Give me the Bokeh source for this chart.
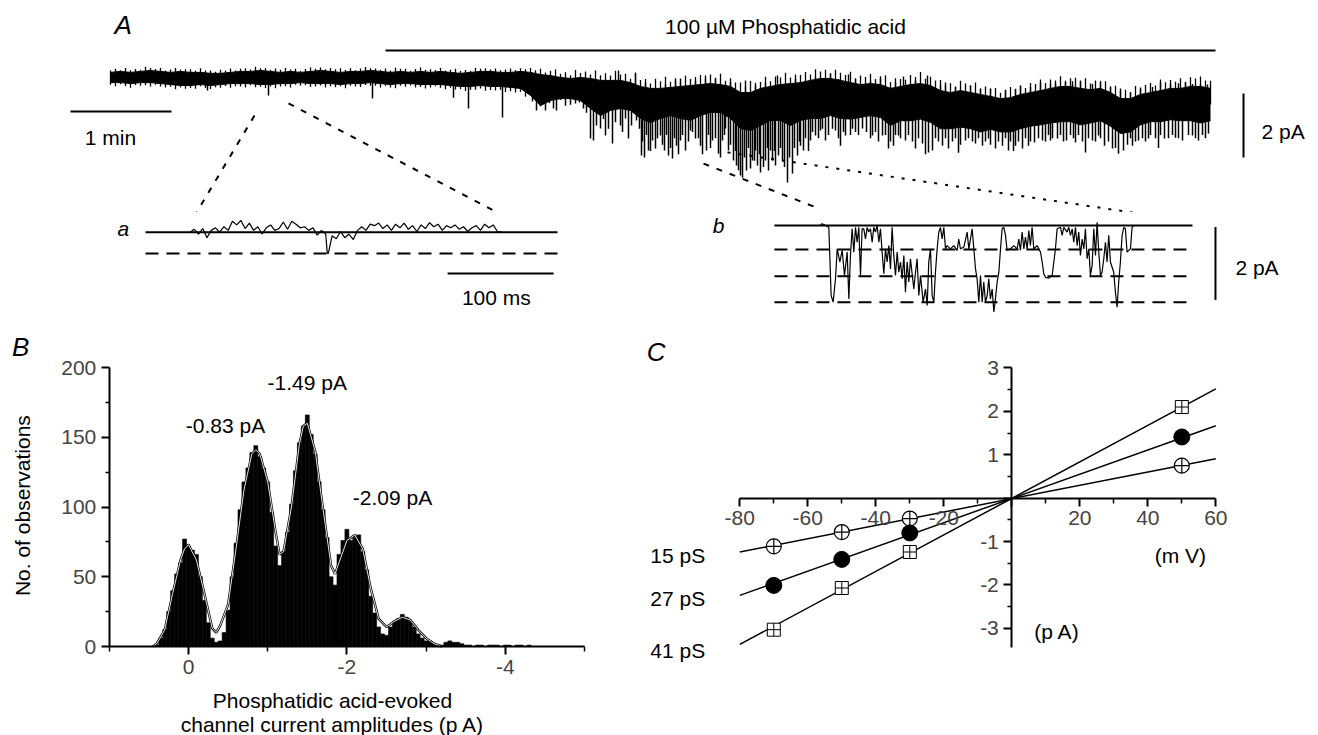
import numpy as np
from bokeh.plotting import figure
from bokeh.models import Range1d, LinearAxis, FixedTicker, CustomJSTickFormatter
from bokeh.layouts import column, row
from bokeh.embed import file_html
from bokeh.resources import INLINE
from bokeh.core.properties import value

FONT = "Liberation Sans"
FS = "21px"

# ---------------- Panel A: long recording (time in min, current in pA) ----------------
trace_step_min = 0.1
trace_upper = [0.16, 0.19, 0.16, 0.19, 0.22, 0.19, 0.16, 0.19, 0.16, 0.16, 0.13, 0.13, 0.16, 0.19, 0.19,
               0.22, 0.19, 0.16, 0.19, 0.16, 0.19, 0.22, 0.19, 0.16, 0.19, 0.19, 0.22, 0.19, 0.16, 0.19,
               0.16, 0.19, 0.16, 0.19, 0.16, 0.13, 0.16, 0.19, 0.19, 0.16, 0.16, 0.19,
               0.16, 0.09, 0.06, 0.00, -0.03, 0.00, -0.03, -0.09, -0.09, -0.09, -0.16, -0.28, -0.34, -0.34,
               -0.31, -0.28, -0.25, -0.22, -0.19, -0.22, -0.28, -0.47, -0.47, -0.34, -0.28, -0.22, -0.19,
               -0.16, -0.09, -0.03, -0.03, -0.09, -0.16, -0.22, -0.19, -0.22, -0.34, -0.28, -0.22, -0.19,
               -0.25, -0.41, -0.47, -0.41, -0.47, -0.53, -0.59, -0.66, -0.63, -0.53, -0.47, -0.41, -0.34,
               -0.28, -0.28, -0.34, -0.38, -0.34, -0.47, -0.66, -0.66, -0.53, -0.47, -0.41, -0.34, -0.34,
               -0.28, -0.28, -0.34]
trace_lower = [-0.16, -0.16, -0.19, -0.16, -0.16, -0.19, -0.22, -0.25, -0.25, -0.22, -0.25, -0.22, -0.19,
               -0.19, -0.19, -0.22, -0.22, -0.19, -0.19, -0.16, -0.19, -0.19, -0.19, -0.22, -0.19, -0.19,
               -0.16, -0.19, -0.22, -0.19, -0.19, -0.22, -0.22, -0.22, -0.25, -0.28, -0.28, -0.25, -0.28,
               -0.28, -0.31, -0.34,
               -0.56, -0.88, -0.72, -0.66, -0.66, -0.72, -0.97, -1.19, -1.03, -0.97, -1.03,
               -1.28, -1.41, -1.28, -1.19, -1.28, -1.34, -1.19, -1.09, -1.09, -1.28, -1.59, -1.66, -1.50,
               -1.34, -1.34, -1.50, -1.34, -1.28,
               -1.28, -1.19, -1.28,
               -1.30, -1.25, -1.19, -1.25, -1.50, -1.35, -1.35, -1.30, -1.40, -1.60, -1.60, -1.55, -1.60,
               -1.70, -1.62, -1.70, -1.70, -1.60, -1.52, -1.48, -1.42, -1.38, -1.38, -1.48, -1.42, -1.35,
               -1.52, -1.75, -1.70, -1.48, -1.38, -1.38, -1.32, -1.35, -1.35, -1.42, -1.35]
# channel openings (downward deflections): time (min) and tip current (pA)
spike_down_t = [0.97, 1.58, 2.62, 3.43, 3.58, 3.92,
                4.22, 4.26, 4.30, 4.35, 4.39, 4.43, 4.46, 4.50, 4.55, 4.60, 4.65, 4.69, 4.73, 4.76, 4.80,
                4.83, 4.86, 4.90, 4.93, 4.95, 4.98, 5.02, 5.05, 5.10, 5.12, 5.15, 5.18, 5.21, 5.26, 5.29,
                5.31, 5.32, 5.34, 5.36, 5.38, 5.40, 5.42, 5.45, 5.47, 5.50, 5.52, 5.54, 5.56, 5.58, 5.60,
                5.62, 5.64, 5.66, 5.68, 5.70, 5.72, 5.75, 5.78, 5.80, 5.82, 5.85, 5.88, 5.90, 5.92, 5.96,
                5.98, 6.00, 6.02, 6.05, 6.08, 6.10, 6.12, 6.14, 6.15, 6.18, 6.20, 6.23, 6.25, 6.26, 6.28,
                6.30, 6.32, 6.34, 6.36, 6.38, 6.40, 6.42, 6.44, 6.45, 6.47, 6.49, 6.50, 6.53, 6.55, 6.57,
                6.58, 6.60, 6.62, 6.64, 6.65, 6.68, 6.70, 6.72, 6.74, 6.77, 6.79, 6.82, 6.84, 6.87, 6.89,
                6.90, 6.93, 6.95, 6.98, 7.00, 7.02, 7.05, 7.08, 7.10, 7.12, 7.15, 7.18, 7.22, 7.25, 7.28,
                7.30, 7.33, 7.35, 7.40, 7.42, 7.45, 7.48, 7.52, 7.56, 7.60, 7.62, 7.65, 7.68, 7.72, 7.75,
                7.78, 7.80, 7.83, 7.85, 7.88, 7.90, 7.95, 7.98, 8.02, 8.05, 8.08, 8.12, 8.15, 8.18, 8.22,
                8.25, 8.28, 8.32, 8.35, 8.38, 8.42, 8.45, 8.48, 8.50, 8.55, 8.58, 8.62, 8.65, 8.68, 8.72,
                8.75, 8.78, 8.80, 8.85, 8.88, 8.92, 8.95, 8.98, 9.00, 9.03, 9.05, 9.08, 9.12, 9.15, 9.18,
                9.20, 9.24, 9.28, 9.32, 9.35, 9.38, 9.40, 9.42, 9.47, 9.50, 9.53, 9.56, 9.60, 9.63, 9.65,
                9.68, 9.72, 9.75, 9.78, 9.82, 9.85, 9.88, 9.90, 9.94, 9.98, 10.02, 10.05, 10.08, 10.13,
                10.17, 10.20, 10.22, 10.25, 10.28, 10.32, 10.35, 10.38, 10.40, 10.45, 10.48, 10.50, 10.54,
                10.58, 10.62, 10.65, 10.68, 10.72, 10.78, 10.82, 10.85, 10.88, 10.92, 10.95, 10.98, 11.00]
spike_down_i = [-0.41, -0.56, -0.66, -0.63, -0.97, -1.25,
                -0.75, -1.03, -0.90, -1.03, -0.80, -0.97, -1.03, -0.70, -0.88, -0.85, -0.81, -0.78, -0.97,
                -1.10, -1.91, -1.97, -1.50, -1.59, -1.30, -1.81, -1.60, -2.06, -1.40, -1.50, -1.70, -1.28,
                -1.91, -1.50, -1.34, -1.60,
                -2.44, -2.00, -2.50, -1.80, -2.28, -2.30, -1.97, -2.22, -1.90, -1.81, -2.10, -2.28, -1.80,
                -2.44, -2.20, -2.53, -1.90, -2.13, -2.40, -1.97, -1.80, -2.28, -2.00, -1.66, -1.70, -1.91,
                -1.90, -2.13, -2.40, -2.28, -1.80, -2.20, -1.97, -1.90, -2.38, -2.50, -1.97, -1.80, -1.59,
                -2.28, -2.10, -2.59, -2.30, -2.75, -2.90, -3.06, -3.13, -2.50, -2.91, -2.20, -2.84, -2.59,
                -2.60, -2.28, -2.75, -2.40, -2.97, -2.80, -2.59, -2.20, -2.91, -2.28, -2.60, -2.30, -2.75,
                -2.44, -2.20, -2.59, -2.80, -3.28, -2.50, -3.00, -2.20, -2.44, -2.00, -2.13, -2.28, -1.90,
                -2.30, -1.97, -1.70, -1.81, -1.90, -1.66, -1.60, -1.97, -1.80, -1.60, -1.66, -1.90, -2.13,
                -1.70, -1.81, -1.80, -1.60, -1.70, -1.80, -1.59, -1.70, -1.90, -1.81, -1.70, -2.00, -1.81,
                -1.80, -2.22, -2.00, -2.13, -1.80, -1.81, -1.90, -1.97, -1.80, -2.00, -2.22, -1.90, -2.06,
                -2.40, -2.34, -2.28, -1.90, -2.00, -2.13, -1.90, -2.22, -2.00, -1.90, -2.35, -2.10, -1.97,
                -1.90, -2.00, -2.06, -1.90, -2.13, -2.00, -1.91, -2.10, -2.22, -2.00, -2.13, -1.90, -2.28,
                -2.00, -2.30, -2.13, -2.00, -2.22, -1.90, -2.13, -2.00, -2.03, -1.90, -1.97, -2.00, -1.80,
                -1.97, -1.90, -1.91, -1.80, -2.00, -1.97, -1.80, -1.90, -2.03, -1.80, -2.00, -2.34, -1.90,
                -1.97, -2.00, -1.81, -1.90, -2.13, -2.00, -2.22, -2.20, -2.38, -2.28, -2.10, -1.90, -2.13,
                -2.00, -1.97, -1.90, -2.00, -1.91, -1.80, -1.90, -2.20, -1.80, -1.91, -1.90, -1.80, -1.88,
                -1.90, -1.97, -1.80, -1.81, -1.90, -1.97, -1.80, -1.90, -1.75]
spike_up_t = [5.08, 5.25, 5.35, 5.55, 5.65, 5.70, 5.85, 5.95, 6.05, 6.20, 6.35, 6.45, 6.55, 6.67, 6.85,
              7.05, 7.20, 7.28, 7.38, 7.45, 7.60, 7.70, 7.85, 7.93, 8.05, 8.17, 8.30, 8.35, 8.45, 8.60,
              8.70, 8.80, 8.95, 9.05, 9.10, 9.20, 9.30, 9.40, 9.45, 9.55, 9.62, 9.70, 9.82, 9.90, 10.00,
              10.10, 10.20, 10.30, 10.42, 10.50, 10.60, 10.68, 10.75, 10.82, 10.90, 10.97]
spike_up_i = [0.22, 0.16, -0.15, -0.20, -0.10, -0.03, -0.10, 0.06, -0.05, -0.15, -0.09, -0.25, -0.15,
              0.06, -0.05, 0.00, 0.13, -0.05, 0.09, -0.05, -0.10, -0.03, -0.15, 0.03, -0.10, 0.06, -0.25,
              -0.16, -0.30, -0.25, -0.35, -0.34, -0.40, -0.35, -0.25, -0.30, -0.16, -0.20, -0.19, -0.15,
              -0.12, -0.09, -0.20, -0.16, -0.30, -0.34, -0.45, -0.35, -0.30, -0.16, -0.20, -0.18, -0.16,
              -0.20, -0.22, -0.22]
# fine noise excursions beyond the band edges (pA), every 0.05 min
noise_step_min = 0.05
noise_up = [0.06, 0.10, 0.04, 0.12, 0.07, 0.09, 0.05, 0.13, 0.08, 0.06, 0.11, 0.04, 0.09, 0.12, 0.06, 0.08, 0.10, 0.05, 0.13, 0.07,
            0.09, 0.05, 0.11, 0.07, 0.12, 0.04, 0.08, 0.10, 0.06, 0.13, 0.07, 0.09, 0.05, 0.11, 0.08, 0.12, 0.06, 0.10, 0.04, 0.09,
            0.12, 0.07, 0.09, 0.05, 0.11, 0.08, 0.13, 0.06, 0.10, 0.04, 0.09, 0.12, 0.07, 0.08, 0.05, 0.11, 0.06, 0.13, 0.08, 0.10,
            0.05, 0.09, 0.12, 0.07, 0.10, 0.06, 0.11, 0.04, 0.08, 0.13, 0.07, 0.09, 0.05, 0.12, 0.08, 0.10, 0.06, 0.11, 0.07, 0.09,
            0.12, 0.06, 0.10, 0.08, 0.14, 0.10, 0.18, 0.08, 0.15, 0.22, 0.12, 0.18, 0.10, 0.25, 0.14, 0.20, 0.12, 0.28, 0.16, 0.22,
            0.15, 0.30, 0.18, 0.24, 0.12, 0.33, 0.20, 0.26, 0.15, 0.30, 0.22, 0.35, 0.18, 0.27, 0.14, 0.32, 0.21, 0.25, 0.30, 0.16,
            0.28, 0.20, 0.34, 0.15, 0.26, 0.22, 0.31, 0.18, 0.36, 0.24, 0.20, 0.33, 0.16, 0.28, 0.22, 0.35, 0.19, 0.27, 0.24, 0.30,
            0.18, 0.32, 0.22, 0.27, 0.15, 0.30, 0.24, 0.20, 0.34, 0.17, 0.28, 0.22, 0.31, 0.16, 0.26, 0.35, 0.20, 0.29, 0.23, 0.18,
            0.30, 0.22, 0.36, 0.18, 0.27, 0.24, 0.33, 0.20, 0.29, 0.16, 0.31, 0.25, 0.22, 0.34, 0.19, 0.28, 0.24, 0.30, 0.18, 0.26,
            0.33, 0.21, 0.27, 0.17, 0.30, 0.24, 0.35, 0.20, 0.28, 0.22, 0.32, 0.18, 0.26, 0.30, 0.21, 0.34, 0.19, 0.27, 0.23, 0.29,
            0.20, 0.31, 0.24, 0.28, 0.17, 0.33, 0.22, 0.27, 0.30, 0.19, 0.35, 0.23, 0.26, 0.21, 0.32, 0.18, 0.29, 0.25, 0.31, 0.22,
            0.24]
noise_down_pre = [0.07, 0.11, 0.05, 0.09, 0.13, 0.06, 0.10, 0.08, 0.12, 0.05, 0.09, 0.11, 0.07, 0.13, 0.06, 0.10, 0.08, 0.12, 0.05, 0.09,
                  0.11, 0.07, 0.10, 0.06, 0.13, 0.08, 0.09, 0.12, 0.05, 0.10, 0.07, 0.11, 0.06, 0.13, 0.09, 0.08, 0.12, 0.05, 0.10, 0.07,
                  0.11, 0.09, 0.06, 0.12, 0.08, 0.10, 0.05, 0.13, 0.07, 0.09, 0.11, 0.06, 0.10, 0.08, 0.12, 0.05, 0.09, 0.13, 0.07, 0.10,
                  0.06, 0.11, 0.08, 0.12, 0.09, 0.05, 0.10, 0.13, 0.07, 0.11, 0.08, 0.14, 0.10, 0.12, 0.09, 0.15, 0.11, 0.13, 0.10, 0.16,
                  0.12, 0.14, 0.11, 0.15]
drug_on_min, drug_off_min = 2.75, 11.05

# ---------------- Inset a (ms, pA) ----------------
a_ms = [42, 46, 50, 54, 58, 62, 66, 70, 74, 78, 82, 86, 90, 94, 98, 102, 106, 110, 114, 118, 122, 126, 130,
        134, 138, 142, 146, 150, 154, 158, 162, 166, 170, 171.5, 172.5, 176, 180, 184, 188, 192, 196, 200,
        204, 208, 212, 216, 220, 224, 228, 232, 236, 240, 244, 248, 252, 256, 260, 264, 268, 272, 276, 280,
        284, 288, 292, 296, 300, 304, 308, 312, 316, 320, 324, 328, 332, 336]
a_pA = [0.00, 0.08, -0.05, 0.10, -0.15, 0.05, 0.12, 0.00, 0.15, 0.05, 0.30, 0.20, 0.32, 0.10, 0.25, 0.05,
        0.15, -0.05, 0.12, 0.20, 0.05, 0.10, 0.28, 0.08, 0.30, 0.22, 0.12, 0.15, 0.05, 0.12, -0.08, 0.05,
        -0.05, -0.58, -0.58, -0.10, -0.18, 0.02, -0.15, -0.05, -0.20, 0.05, 0.15, 0.05, 0.22, 0.18, 0.25,
        0.10, 0.20, 0.05, 0.22, 0.12, 0.25, 0.08, 0.18, 0.02, 0.20, 0.10, 0.26, 0.15, 0.22, 0.05, 0.18,
        0.12, 0.20, 0.08, 0.15, 0.02, 0.12, 0.18, 0.05, 0.22, 0.12, 0.20, 0.02, 0.00]
a_levels = [-0.58]

# ---------------- Inset b (ms, pA) ----------------
b_ms = [44.3, 45.9, 52.2, 54.4, 56.3, 58.5, 60.1, 62.6, 64.8, 67.0, 69.5, 71.1, 72.6, 74.2, 75.8, 77.4,
        78.9, 80.5, 82.1, 83.6, 85.2, 86.8, 88.4, 89.9, 91.5, 93.1, 94.6, 96.2, 97.8, 99.4, 100.9, 102.5,
        104.1, 105.7, 107.2, 108.8, 110.4, 111.9, 113.5, 115.1, 116.7, 118.2, 119.8, 121.4, 123.0, 124.5,
        126.1, 127.7, 129.2, 132.4, 134.0, 135.5, 137.1, 138.7, 141.2, 143.4, 145.0, 146.5, 148.1, 149.7,
        151.3, 152.8, 154.4, 156.0, 157.5, 159.1, 160.7, 162.3, 163.8, 167.0, 170.1, 173.3, 174.8, 176.4,
        179.6, 182.7, 184.3, 187.4, 189.0, 190.6, 192.1, 193.7, 195.3, 196.9, 198.4, 200.0, 201.6, 203.1,
        204.7, 206.3, 207.9, 209.4, 211.0, 212.6, 214.2, 215.7, 217.3, 218.9, 220.4, 223.6, 226.7, 229.9,
        231.4, 233.0, 234.6, 236.2, 237.7, 239.3, 240.9, 242.4, 244.0, 245.6, 248.7, 251.9, 253.5, 255.0,
        256.6, 259.7, 262.9, 264.5, 266.0, 267.6, 270.8, 272.3, 273.9, 277.0, 278.6, 280.2, 281.8, 283.3,
        284.9, 286.5, 288.0, 289.6, 291.2, 292.8, 294.3, 295.9, 297.5, 299.0, 300.6, 302.2, 303.8, 305.3,
        306.9, 308.5, 310.0, 311.6, 313.2, 314.7, 316.3, 317.9, 321.0, 322.6, 324.2, 325.7, 327.3, 328.9,
        330.5, 332.0, 333.6, 335.2, 336.8, 338.3, 339.9]
b_pA = [0.02, 0.05, -0.05, -1.92, -2.10, -1.46, -0.64, -1.00, -0.68, -1.37, -0.73, -2.01, -0.82, -0.09,
        -0.73, -0.05, -0.46, -0.05, -1.37, -0.09, -0.09, -0.37, -0.05, -0.18, -0.09, -0.46, -0.05, -0.18,
        0.00, -0.46, -0.09, -0.73, -1.32, -0.64, -1.00, -0.55, -1.19, -0.05, -0.82, -1.37, -0.73, -1.28,
        -1.00, -1.46, -0.82, -1.83, -1.00, -1.55, -0.91, -1.74, -1.28, -0.91, -1.92, -1.37, -2.10, -1.74,
        -2.19, -1.00, -0.64, -1.92, -2.10, -1.28, -0.64, -0.18, -0.05, -0.37, -0.05, -0.64, -0.55, -0.64,
        -0.55, -0.68, -0.37, -0.64, -0.59, -0.18, -0.64, -0.09, -0.64, -1.19, -1.46, -2.10, -1.37, -2.10,
        -1.55, -2.10, -1.92, -1.46, -2.01, -1.74, -2.37, -2.01, -1.55, -1.28, -0.64, -0.09, -0.05, -0.27,
        -0.68, -0.64, -0.55, -0.64, -0.37, -0.68, -0.18, -0.64, -0.32, -0.64, -0.14, -0.55, -0.05, -0.64,
        -0.55, -0.73, -1.00, -1.32, -1.42, -1.44, -1.37, -1.00, -0.64, -0.09, -0.05, -0.27, -0.05, -0.18,
        -0.05, -0.27, -0.09, -0.46, -0.05, -0.55, -0.18, -0.82, -0.37, -0.64, -0.09, -0.91, -0.64, -1.37,
        -1.10, -0.09, -0.82, 0.09, -0.73, -1.37, -1.28, -0.91, -0.46, -1.00, -0.27, -1.00, -1.28, -1.83,
        -2.24, -1.55, -1.00, -0.27, -0.05, -0.09, -0.73, -0.68, -0.64, -0.05, 0.00]
b_levels = [-0.66, -1.39, -2.10]

# ---------------- Panel B: amplitude histogram ----------------
hist_bin_width = 0.05
hist_first_center = 0.45
hist_counts = [0, 1, 6, 12, 25, 40, 52, 60, 77, 72,
               69, 66, 50, 33, 17, 6, 3, 4, 10, 26, 50, 74, 98, 118, 128, 139, 144, 136, 128, 118,
               96, 72, 58, 68, 82, 102, 126, 146, 158, 166, 152, 138, 118, 98, 78, 50, 44, 66, 76, 84,
               76, 78, 80, 68, 55, 36, 24, 14, 9, 8, 14, 18, 20, 23, 21, 18, 14, 9, 6, 4,
               4, 2, 1, 1, 3, 4, 3, 3, 2, 1, 1, 0, 1, 1, 0, 1, 1, 1, 0, 1,
               1, 0, 1, 1, 0, 1, 0, 0, 0, 0, 0]
fit_amp = [0.45, 0.4, 0.3, 0.2, 0.1, 0.05, 0, -0.1, -0.2, -0.3, -0.35, -0.4, -0.5, -0.6, -0.7, -0.8, -0.85,
           -0.9, -1.0, -1.1, -1.15, -1.2, -1.3, -1.4, -1.45, -1.5, -1.6, -1.7, -1.8, -1.85, -1.9, -2.0, -2.1,
           -2.2, -2.3, -2.4, -2.5, -2.6, -2.7, -2.8, -2.9, -3.0, -3.1, -3.2]
fit_count = [0, 2, 12, 38, 62, 70, 73, 62, 38, 13, 10, 15, 30, 70, 112, 138, 141, 138, 118, 82, 66, 68,
             100, 145, 158, 160, 140, 98, 58, 52, 60, 76, 80, 70, 42, 20, 14, 18, 21, 19, 12, 6, 2, 0]
peak_labels = ["-0.83 pA", "-1.49 pA", "-2.09 pA"]

# ---------------- Panel C: I-V relations ----------------
iv_mV = [-70, -50, -30, 50]
iv_15 = [-1.11, -0.78, -0.47, 0.75]
iv_27 = [-2.01, -1.41, -0.80, 1.41]
iv_41 = [-3.03, -2.07, -1.24, 2.10]
fit_mV = [-80, 60]
fit_15 = [-1.24, 0.91]
fit_27 = [-2.24, 1.67]
fit_41 = [-3.37, 2.52]
cond_labels = ["15 pS", "27 pS", "41 pS"]


def bare(w, h, xr, yr):
    return figure(width=w, height=h, x_range=Range1d(*xr), y_range=Range1d(*yr),
                  toolbar_location=None, output_backend="svg", x_axis_type=None, y_axis_type=None,
                  min_border=0, outline_line_color=None, title=None)


def txt(p, x, y, s, size=FS, align="center", baseline="middle", italic=False, angle=0.0):
    p.text(x=[x], y=[y], text=[s], text_font=value(FONT), text_font_size=size,
           text_align=align, text_baseline=baseline, angle=angle,
           text_font_style="italic" if italic else "normal", text_color="black")


def style_axis(ax, zero_blank):
    ax.axis_line_width = 2
    ax.major_tick_line_width = 2
    ax.minor_tick_line_width = 1.5
    ax.major_tick_out = 8
    ax.major_tick_in = 0
    ax.minor_tick_out = 4
    ax.minor_tick_in = 0
    ax.major_label_text_font = FONT
    ax.major_label_text_font_size = FS
    ax.major_label_standoff = 5
    if zero_blank:
        ax.formatter = CustomJSTickFormatter(code="return Math.abs(tick) < 1e-9 ? '' : String(Math.round(tick));")
    else:
        ax.formatter = CustomJSTickFormatter(code="return String(Math.round(tick));")


# ===== Panel A main =====
pA = bare(1318, 212, (-1.10, 12.08), (-4.21875, 2.40625))
t_env = np.arange(len(trace_upper)) * trace_step_min
up = np.array(trace_upper)
lo = np.array(trace_lower)
mid = (up + lo) / 2
pA.varea(x=t_env, y1=lo, y2=up, fill_color="black")
pA.line(t_env, up, line_color="black", line_width=1)
pA.line(t_env, lo, line_color="black", line_width=1)
# fine noise at the band edges
tn = np.arange(len(noise_up)) * noise_step_min
pA.segment(x0=tn, y0=np.interp(tn, t_env, mid), x1=tn, y1=np.interp(tn, t_env, up) + np.array(noise_up),
           line_color="black", line_width=1.3)
tnd = np.arange(len(noise_down_pre)) * noise_step_min
pA.segment(x0=tnd, y0=np.interp(tnd, t_env, mid), x1=tnd,
           y1=np.interp(tnd, t_env, lo) - np.array(noise_down_pre), line_color="black", line_width=1.3)
sd = np.array(spike_down_t)
pA.segment(x0=sd, y0=np.interp(sd, t_env, mid), x1=sd, y1=spike_down_i, line_color="black", line_width=1.5)
su = np.array(spike_up_t)
pA.segment(x0=su, y0=np.interp(su, t_env, mid), x1=su, y1=spike_up_i, line_color="black", line_width=1.4)
pA.line([drug_on_min, drug_off_min], [0.84, 0.84], line_color="black", line_width=2)
txt(pA, 6.75, 1.58, "100 \u00b5M Phosphatidic acid")
txt(pA, 0.04, 1.64, "A", size="26px", align="left", italic=True)
pA.line([-0.4, 0.61], [-1.06, -1.06], line_color="black", line_width=2)
txt(pA, 0.0, -1.875, "1 min")
pA.line([11.33, 11.33], [-0.5, -2.5], line_color="black", line_width=2)
txt(pA, 11.51, -1.69, "2 pA", align="left")
# zoom guides
pA.line([1.44, 0.86], [-1.19, -4.22], line_color="black", line_width=2, line_dash="6 8")
pA.line([1.78, 3.87], [-0.81, -4.22], line_color="black", line_width=2, line_dash="6 8")
pA.line([5.93, 7.08], [-2.69, -4.09], line_color="black", line_width=2, line_dash="6 8")
pA.line([6.17, 10.22], [-2.34, -4.22], line_color="black", line_width=2, line_dash="3 8")

# ===== Inset a =====
pa = bare(668, 108, (-136.79, 493.4), (-2.419, 0.540))
pa.line([0, 388.7], [0, 0], line_color="black", line_width=2)
for lv in a_levels:
    pa.line([0, 388.7], [lv, lv], line_color="black", line_width=2, line_dash="13 8")
pa.line(a_ms, a_pA, line_color="black", line_width=1.2)
pa.line([285, 385], [-1.13, -1.13], line_color="black", line_width=2)
txt(pa, 331, -1.79, "100 ms")
txt(pa, -20.8, 0.10, "a", italic=True)

# ===== Inset b =====
pb = bare(650, 108, (-99.06, 514.2), (-2.603, 0.356))
pb.line([0.9, 395.3], [0, 0], line_color="black", line_width=2)
for lv in b_levels:
    pb.line([0.9, 395.3], [lv, lv], line_color="black", line_width=2, line_dash="13 8")
pb.line(b_ms, b_pA, line_color="black", line_width=1.2)
pb.line([417, 417], [-0.04, -2.04], line_color="black", line_width=2)
txt(pb, 435.8, -1.15, "2 pA", align="left")
txt(pb, -51.9, 0.0, "b", italic=True)

# ===== Panel B: histogram =====
pB = bare(638, 415, (2.3737, -5.682), (-63.8, 233.7))
centers = hist_first_center - hist_bin_width * np.arange(len(hist_counts))
pB.vbar(x=centers, top=hist_counts, width=hist_bin_width, bottom=0, fill_color="black",
        line_color="black", line_width=0.6)
pB.line(fit_amp, fit_count, line_color="black", line_width=2.4)
pB.line(fit_amp, fit_count, line_color="white", line_width=0.9)
yax = LinearAxis(fixed_location=1.0, bounds=(0, 200),
                 ticker=FixedTicker(ticks=[0, 50, 100, 150, 200], minor_ticks=[25, 75, 125, 175]))
style_axis(yax, False)
pB.add_layout(yax, "left")
xax = LinearAxis(fixed_location=0, bounds=(-5, 1),
                 ticker=FixedTicker(ticks=[0, -2, -4], minor_ticks=[1, -1, -3, -5]))
style_axis(xax, False)
xax.minor_tick_out = 5
pB.add_layout(xax, "below")
txt(pB, 2.12, 215, "B", size="26px", italic=True)
txt(pB, -0.467, 158.4, peak_labels[0])
txt(pB, -1.50, 189.2, peak_labels[1])
txt(pB, -2.576, 106.8, peak_labels[2])
txt(pB, 2.096, 101, "No. of observations", angle=np.pi / 2)
txt(pB, -1.818, -38.5, "Phosphatidic acid-evoked")
txt(pB, -1.818, -55.8, "channel current amplitudes (p A)")

# ===== Panel C: I-V =====
pC = bare(680, 415, (-109.79, 90.2), (-5.468, 4.094))
cx = LinearAxis(fixed_location=0, bounds=(-80, 60),
                ticker=FixedTicker(ticks=[-80, -60, -40, -20, 0, 20, 40, 60],
                                   minor_ticks=[-70, -50, -30, -10, 10, 30, 50]))
style_axis(cx, True)
cx.minor_tick_out = 5
pC.add_layout(cx, "below")
cy = LinearAxis(fixed_location=0, bounds=(-3.43, 3),
                ticker=FixedTicker(ticks=[-3, -2, -1, 0, 1, 2, 3],
                                   minor_ticks=[-2.5, -1.5, -0.5, 0.5, 1.5, 2.5]))
style_axis(cy, True)
pC.add_layout(cy, "left")
for fy in (fit_15, fit_27, fit_41):
    pC.line(fit_mV, fy, line_color="black", line_width=1.5)
pC.scatter(iv_mV, iv_15, marker="circle_cross", size=15, fill_color="white", line_color="black", line_width=1.2)
pC.scatter(iv_mV, iv_27, marker="circle", size=16, fill_color="black", line_color="black")
pC.scatter(iv_mV, iv_41, marker="square_cross", size=13, fill_color="white", line_color="black", line_width=1)
txt(pC, -104.6, 3.36, "C", size="26px", italic=True)
txt(pC, -106.3, -1.33, cond_labels[0], align="left")
txt(pC, -106.3, -2.32, cond_labels[1], align="left")
txt(pC, -106.3, -3.51, cond_labels[2], align="left")
txt(pC, 49.6, -1.32, "(m V)")
txt(pC, 13.3, -3.08, "(p A)")

layout = column(pA, row(pa, pb), row(pB, pC))
open("out.html", "w").write(file_html(layout, INLINE))
